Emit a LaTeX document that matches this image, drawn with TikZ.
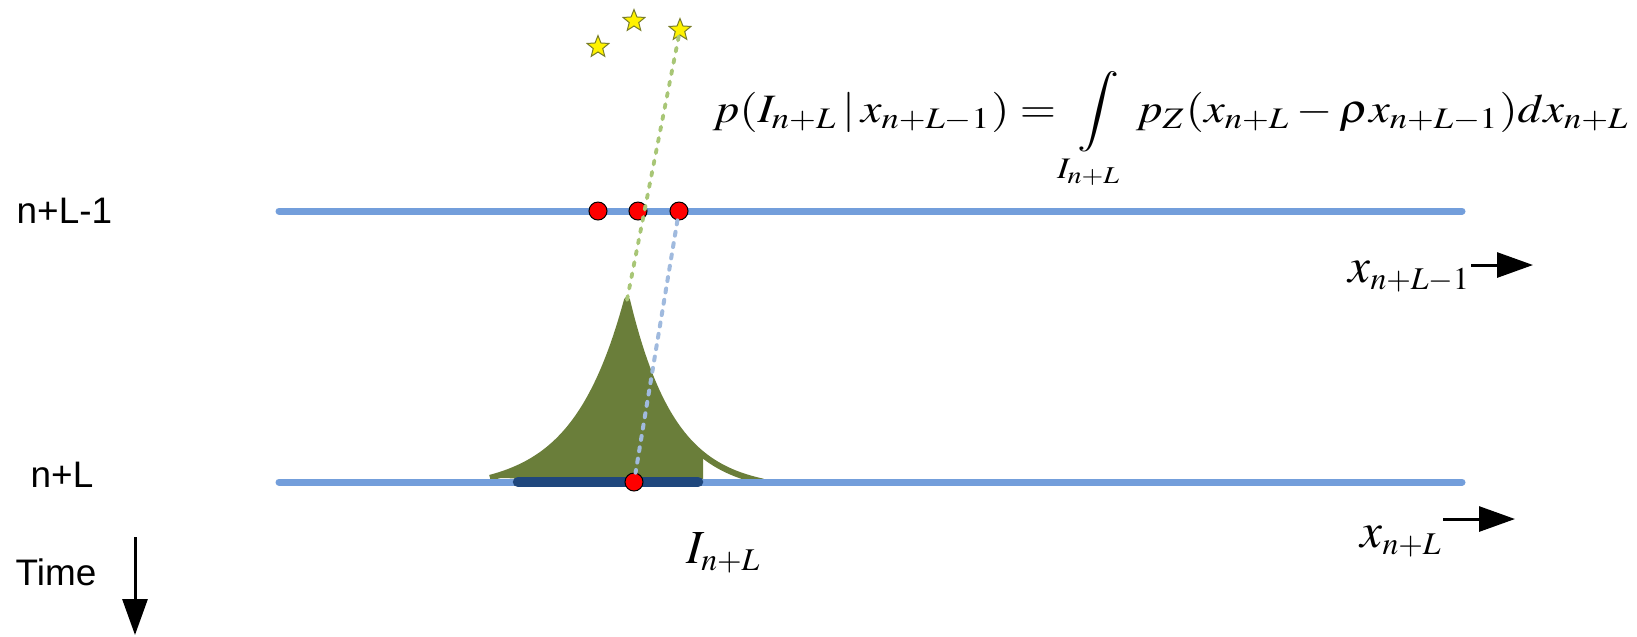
\documentclass[tikz,border=0pt]{standalone}
\usepackage{mathptmx}
\usepackage{fontspec}
\usepackage{graphicx}
\newfontfamily\arialfont{Liberation Sans}
\DeclareMathSizes{14}{14}{9}{6.5}
\DeclareMathSizes{13.5}{13.5}{9}{6.5}
\usetikzlibrary{arrows.meta,calc,shapes.geometric}
\definecolor{linblue}{RGB}{115,158,219}
\definecolor{barblue}{RGB}{31,71,125}
\definecolor{shapegreen}{RGB}{106,126,58}
\definecolor{linkgreen}{RGB}{168,198,118}
\definecolor{linkblue}{RGB}{160,186,222}
\definecolor{starrim}{RGB}{120,125,40}

\begin{document}
\begin{tikzpicture}[x=0.1mm, y=-0.1mm,
  timeline/.style={draw=linblue, line width=0.7mm, line cap=round},
  intbar/.style={draw=barblue, line width=1.05mm, line cap=round},
  obsdot/.style={circle, fill=red, draw=black, line width=0.1mm, minimum size=1.8mm, inner sep=0pt},
  sampstar/.style={star, star points=5, star point ratio=2.3, fill=yellow, draw=starrim, line width=0.1mm, minimum size=2.3mm, inner sep=0pt},
  greenlink/.style={draw=linkgreen, line width=0.38mm, line cap=round, dash pattern=on 0.4mm off 0.75mm},
  bluelink/.style={draw=linkblue, line width=0.4mm, line cap=round, dash pattern=on 0.4mm off 0.75mm},
  steplbl/.style={font=\arialfont\fontsize{10.5}{12}\selectfont, inner sep=0pt, anchor=base west},
  mathlbl/.style={font=\fontsize{14}{16}\selectfont, inner sep=0pt, anchor=base west},
  arr/.style={-{Triangle[length=3.6mm, width=2.5mm]}, line width=0.3mm}]
  \useasboundingbox (0,0) rectangle (1637,636);
  % Laplace-like density sitting on the n+L line, filled up to the
  % right end of the interval, outline carried on to the tail
  \coordinate (peak) at (627,300);
  \fill[shapegreen]
    plot[domain=490:627, samples=60] (\x, {482-182*(exp(-(627-\x)/52)-0.05)/0.95})
    -- plot[domain=627:703, samples=40] (\x, {482-182*(exp(-(\x-627)/46)-0.05)/0.95})
    -- (703,482) -- cycle;
  \draw[shapegreen, line width=0.6mm, line join=round]
    plot[domain=490:627, samples=60] (\x, {482-182*(exp(-(627-\x)/52)-0.05)/0.95})
    -- plot[domain=627:763, samples=60] (\x, {482-182*(exp(-(\x-627)/46)-0.05)/0.95});
  % Time lines
  \coordinate (prevL) at (279,211);
  \coordinate (prevR) at (1462,211);
  \coordinate (currL) at (279,482);
  \coordinate (currR) at (1462,482);
  \draw[timeline] (prevL) -- (prevR);
  \draw[timeline] (currL) -- (currR);
  % Interval I_{n+L}
  \coordinate (barL) at (518,482);
  \coordinate (barR) at (698,482);
  \draw[intbar] (barL) -- (barR);
  % Samples
  \node[sampstar] (star1) at (598,47) {};
  \node[sampstar] (star2) at (634,21) {};
  \node[sampstar] (star3) at (680,30) {};
  \node[obsdot] (prev1) at (598,211) {};
  \node[obsdot] (prev2) at (638,211) {};
  \node[obsdot] (prev3) at (679,211) {};
  \node[obsdot] (curr) at (634,482) {};
  \draw[greenlink] (star3) -- (peak);
  \draw[bluelink] (prev3) -- (curr);
  % Step labels and time axis
  \node[steplbl] (prevlbl) at (16,223) {n+L-1};
  \node[steplbl] (currlbl) at (30,487) {n+L};
  \node[steplbl] (timelbl) at (15,585) {Time};
  \coordinate (timetail) at (135,537);
  \coordinate (timetip) at (135,635);
  \draw[arr] (timetail) -- (timetip);
  % Likelihood
  \node[inner sep=0pt, anchor=base west] (lik) at (712,122)
    {\resizebox*{91.7mm}{11.8mm}{$\displaystyle p(I_{n+L}\,|\,x_{n+L-1})=\int\limits_{I_{n+L}}p_Z(x_{n+L}-\rho x_{n+L-1})dx_{n+L}$}};
  % State axes
  \node[mathlbl] (xup) at (1348,282) {$x_{n+L-1}$};
  \coordinate (xuptip) at (1533,265);
  \draw[arr] (xup.east |- xuptip) -- (xuptip);
  \node[mathlbl] (xlow) at (1360,547) {$x_{n+L}$};
  \coordinate (xlowtip) at (1515,519);
  \draw[arr] (xlow.east |- xlowtip) -- (xlowtip);
  \node[mathlbl, font=\fontsize{13.5}{16}\selectfont] (intlbl) at (686,563) {$I_{n+L}$};
\end{tikzpicture}
\end{document}
